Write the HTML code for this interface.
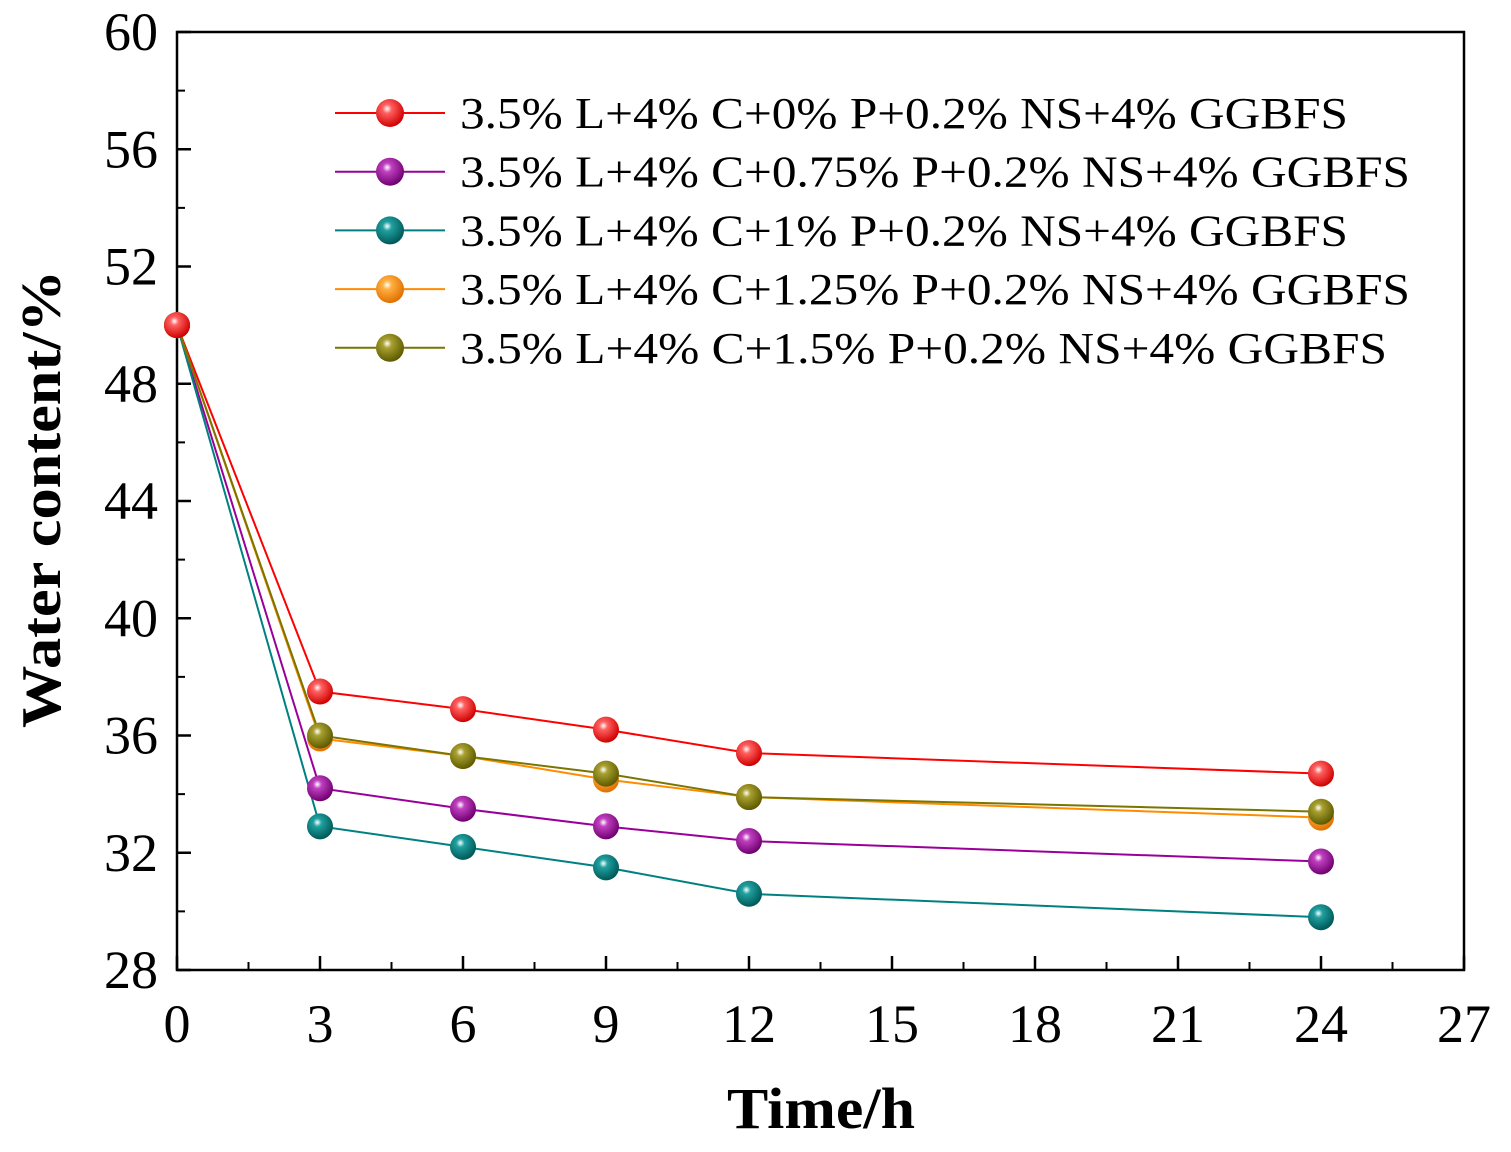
<!DOCTYPE html>
<html><head><meta charset="utf-8"><style>
html,body{margin:0;padding:0;background:#fff;}
svg{display:block;font-family:"Liberation Serif",serif;}
</style></head><body>
<svg id="chart" width="1511" height="1152" viewBox="0 0 1511 1152" xmlns="http://www.w3.org/2000/svg">
<defs>
<radialGradient id="g-red" cx="0.4" cy="0.35" r="0.65"><stop offset="0" stop-color="#fff"/><stop offset="0.25" stop-color="#ff6060"/><stop offset="1" stop-color="#d00000"/></radialGradient>
<radialGradient id="g-purple" cx="0.4" cy="0.35" r="0.65"><stop offset="0" stop-color="#fff"/><stop offset="0.25" stop-color="#c040c0"/><stop offset="1" stop-color="#700070"/></radialGradient>
<radialGradient id="g-teal" cx="0.4" cy="0.35" r="0.65"><stop offset="0" stop-color="#fff"/><stop offset="0.25" stop-color="#20a0a0"/><stop offset="1" stop-color="#005858"/></radialGradient>
<radialGradient id="g-orange" cx="0.4" cy="0.35" r="0.65"><stop offset="0" stop-color="#fff"/><stop offset="0.25" stop-color="#ffb040"/><stop offset="1" stop-color="#e07000"/></radialGradient>
<radialGradient id="g-olive" cx="0.4" cy="0.35" r="0.65"><stop offset="0" stop-color="#fff"/><stop offset="0.25" stop-color="#a8a030"/><stop offset="1" stop-color="#5e5a00"/></radialGradient>
</defs>
<g id="axes"></g>
<g id="series"></g>
<g id="legend"></g>
</svg>
<script>
const times = [0, 3, 6, 9, 12, 24];
const seriesNames = ["3.5% L+4% C+0% P+0.2% NS+4% GGBFS","3.5% L+4% C+0.75% P+0.2% NS+4% GGBFS","3.5% L+4% C+1% P+0.2% NS+4% GGBFS","3.5% L+4% C+1.25% P+0.2% NS+4% GGBFS","3.5% L+4% C+1.5% P+0.2% NS+4% GGBFS"];
const redValues = [50, 37.5, 36.9, 36.2, 35.4, 34.7];
const purpleValues = [50, 34.2, 33.5, 32.9, 32.4, 31.7];
const tealValues = [50, 32.9, 32.2, 31.5, 30.6, 29.8];
const orangeValues = [50, 35.9, 35.3, 34.5, 33.9, 33.2];
const oliveValues = [50, 36.0, 35.3, 34.7, 33.9, 33.4];
const xTicks = [0, 3, 6, 9, 12, 15, 18, 21, 24, 27];
const yTicks = [28, 32, 36, 40, 44, 48, 52, 56, 60];

const NS = "http://www.w3.org/2000/svg";
const L = 177, R = 1464, T = 32, B = 970;
const xs = v => L + (v - 0) / 27 * (R - L);
const ys = v => B - (v - 28) / 32 * (B - T);
function mk(tag, attrs, parent) { const e = document.createElementNS(NS, tag); for (const k in attrs) e.setAttribute(k, attrs[k]); parent.appendChild(e); return e; }
const axes = document.getElementById("axes");
const frame = mk("rect", {x:L, y:T, width:R-L, height:B-T, fill:"none", stroke:"#000", "stroke-width":2.5}, axes);


xTicks.forEach(t => {
  const x = xs(t);
  const tk = mk("line", {x1:x, x2:x, y1:B, y2:B-14, stroke:"#000", "stroke-width":2.5}, axes);
  
  
  if (t < 27) { const mx = xs(t + 1.5); const m = mk("line", {x1:mx, x2:mx, y1:B, y2:B-8, stroke:"#000", "stroke-width":2}, axes);
    
     }
  const lb = mk("text", {x:x, y:1042, "font-size":54, "text-anchor":"middle"}, axes); lb.textContent = t;
  
  
});
yTicks.forEach(t => {
  const y = ys(t);
  const tk = mk("line", {x1:L, x2:L+14, y1:y, y2:y, stroke:"#000", "stroke-width":2.5}, axes);
  
  
  if (t < 60) { const my = ys(t + 2); const m = mk("line", {x1:L, x2:L+8, y1:my, y2:my, stroke:"#000", "stroke-width":2}, axes);
    
     }
  const lb = mk("text", {x:158, y:y+18, "font-size":54, "text-anchor":"end"}, axes); lb.textContent = t;
  
  
});
const xt = mk("text", {x:727, y:1128, "font-size":58, "font-weight":"bold", textLength:188, lengthAdjust:"spacingAndGlyphs"}, axes); xt.textContent = "Time/h";


const yt = mk("text", {x:0, y:0, "font-size":56, "font-weight":"bold", "text-anchor":"middle", textLength:458, lengthAdjust:"spacingAndGlyphs", transform:"translate(60,499) rotate(-90)"}, axes); yt.textContent = "Water content/%";



const allSeries = [
  {vals: redValues, color:"#ff0000", grad:"g-red", key:"red"},
  {vals: purpleValues, color:"#990099", grad:"g-purple", key:"purple"},
  {vals: tealValues, color:"#008080", grad:"g-teal", key:"teal"},
  {vals: orangeValues, color:"#ff8c00", grad:"g-orange", key:"orange"},
  {vals: oliveValues, color:"#7a7500", grad:"g-olive", key:"olive"}
];
const legendWidths = [888, 950, 888, 950, 927];
const sg = document.getElementById("series");
allSeries.forEach(s => {
  const pl = mk("polyline", {points: s.vals.map((v,i) => xs(times[i]) + "," + ys(v)).join(" "), fill:"none", stroke:s.color, "stroke-width":2}, sg);
  
  
});
const drawOrder = [1, 2, 3, 4, 0];
drawOrder.forEach(k => {
  const s = allSeries[k];
  s.vals.forEach((v,i) => {
    const c = mk("circle", {cx:xs(times[i]), cy:ys(v), r:13, fill:"url(#" + s.grad + ")"}, sg);
    
    
  });
});
const lg = document.getElementById("legend");
allSeries.forEach((s, i) => {
  const y = 113 + i * 58.7;
  const ln = mk("line", {x1:335, x2:445, y1:y, y2:y, stroke:s.color, "stroke-width":2}, lg);
  
  
  const c = mk("circle", {cx:390, cy:y, r:14, fill:"url(#" + s.grad + ")"}, lg);
  
  
  const t = mk("text", {x:460, y:y+15, "font-size":44, textLength:legendWidths[i], lengthAdjust:"spacingAndGlyphs"}, lg); t.textContent = seriesNames[i];
  
  
});
</script>
</body></html>
